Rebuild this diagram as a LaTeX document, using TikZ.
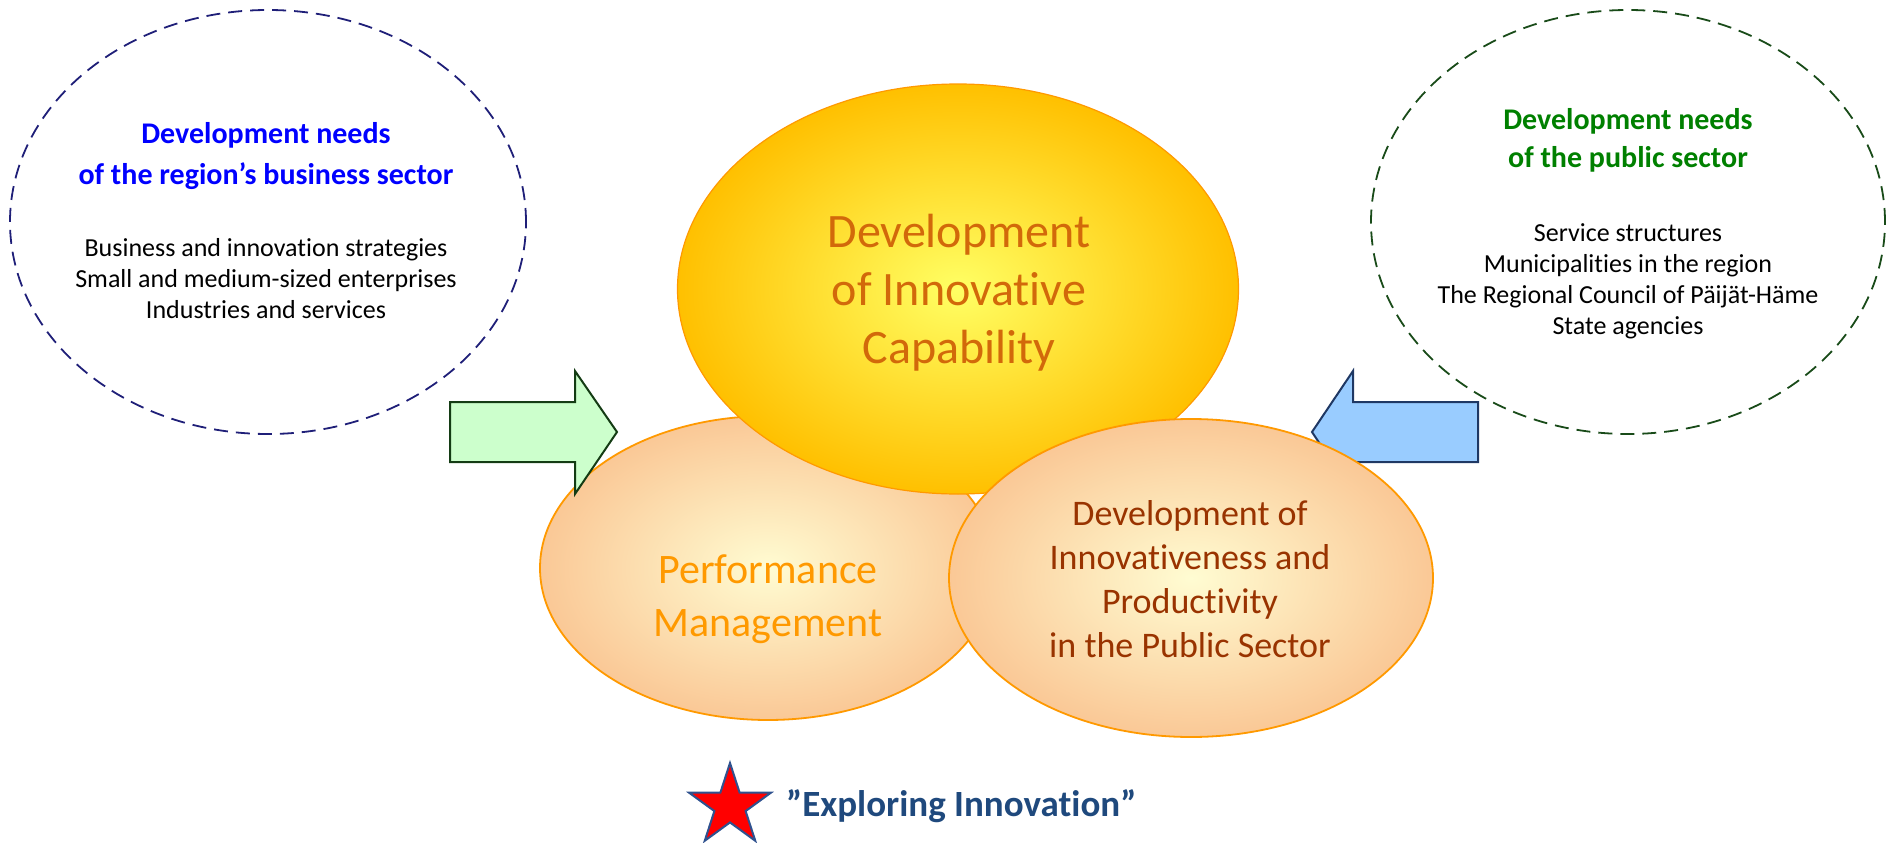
\documentclass[tikz,border=0pt]{standalone}
\usepackage{fontspec}
\setmainfont{Carlito}[Ligatures=CommonOff]
\usetikzlibrary{shapes.geometric}
\definecolor{navyd}{RGB}{31,31,120}
\definecolor{greend}{RGB}{25,75,25}
\definecolor{titleblue}{RGB}{0,0,255}
\definecolor{titlegreen}{RGB}{0,128,0}
\definecolor{gold}{RGB}{255,192,0}
\definecolor{lightyel}{RGB}{255,255,100}
\definecolor{peach}{RGB}{250,200,150}
\definecolor{cream}{RGB}{255,252,210}
\definecolor{orangeline}{RGB}{255,153,0}
\definecolor{captext}{RGB}{210,105,10}
\definecolor{perftext}{RGB}{255,153,0}
\definecolor{pubtext}{RGB}{153,51,0}
\definecolor{explore}{RGB}{31,73,125}
\definecolor{greenfill}{RGB}{204,255,204}
\definecolor{greenline}{RGB}{20,60,20}
\definecolor{bluefill}{RGB}{153,204,255}
\definecolor{blueline}{RGB}{31,56,100}
\definecolor{starline}{RGB}{47,82,143}
\begin{document}
\begin{tikzpicture}[x=1pt,y=-1pt,
  needs/.style={ellipse,inner sep=0pt,line width=1.8pt,dash pattern=on 14pt off 8pt},
  bigell/.style={ellipse,inner sep=0pt,shading=radial,line width=1.8pt,draw=orangeline},
  blockarrow/.style={line width=2pt,line join=miter},
  txt/.style={align=center,inner sep=0pt}]
\useasboundingbox (0,0) rectangle (1891,843);
% dashed need ellipses
\node[needs,draw=navyd,minimum width=516pt,minimum height=424pt] (lneed) at (268,222) {};
\node[needs,draw=greend,minimum width=514pt,minimum height=424pt] (rneed) at (1628,222) {};
% performance ellipse
\node[bigell,inner color=cream,outer color=peach,minimum width=456pt,minimum height=304pt] (perf) at (768,568) {};
% green arrow
\coordinate (ga) at (450,432);
\draw[blockarrow,draw=greenline,fill=greenfill] (ga) ++(0,-30) -- ++(125,0) -- ++(0,-31) -- ++(42,61) -- ++(-42,62) -- ++(0,-32) -- ++(-125,0) -- cycle;
% yellow ellipse
\node[bigell,inner color=lightyel,outer color=gold,line width=1.2pt,minimum width=561pt,minimum height=410pt] (cap) at (958,289) {};
% blue arrow
\coordinate (ba) at (1478,432);
\draw[blockarrow,draw=blueline,fill=bluefill] (ba) ++(0,-30) -- ++(-125,0) -- ++(0,-31) -- ++(-41,61) -- ++(41,62) -- ++(0,-32) -- ++(125,0) -- cycle;
% public ellipse
\node[bigell,inner color=cream,outer color=peach,minimum width=484pt,minimum height=318pt] (pub) at (1191,578) {};
% texts
\node[txt,text=titleblue,font=\fontsize{30}{41}\selectfont\bfseries] (ltitle) at (266,156) {Development needs\\of the region’s business sector};
\node[txt,font=\fontsize{26}{31}\selectfont] (lbody) at (266,279) {Business and innovation strategies\\Small and medium-sized enterprises\\Industries and services};
\node[txt,text=titlegreen,font=\fontsize{30}{38}\selectfont\bfseries] (rtitle) at (1628,140) {Development needs\\of the public sector};
\node[txt,font=\fontsize{26}{31}\selectfont] (rbody) at (1628,281) {Service structures\\Municipalities in the region\\The Regional Council of Päijät-Häme\\State agencies};
\node[txt,text=captext,font=\fontsize{48}{58}\selectfont] (captxt) at (959,293) {Development\\of Innovative\\Capability};
\node[txt,text=perftext,font=\fontsize{42}{53}\selectfont] (perftxt) at (768,599) {Performance\\Management};
\node[txt,text=pubtext,font=\fontsize{36}{44}\selectfont] (pubtxt) at (1190,579) {Development of\\Innovativeness and\\Productivity\\in the Public Sector};
% star and motto
\node[star,star points=5,star point ratio=2.618,minimum size=86pt,inner sep=0pt,fill=red,draw=starline,line width=2pt] (star) at (730,806) {};
\node[txt,text=explore,font=\fontsize{37}{44}\selectfont\bfseries,anchor=west] (motto) at (786,806) {”Exploring Innovation”};
\end{tikzpicture}
\end{document}
